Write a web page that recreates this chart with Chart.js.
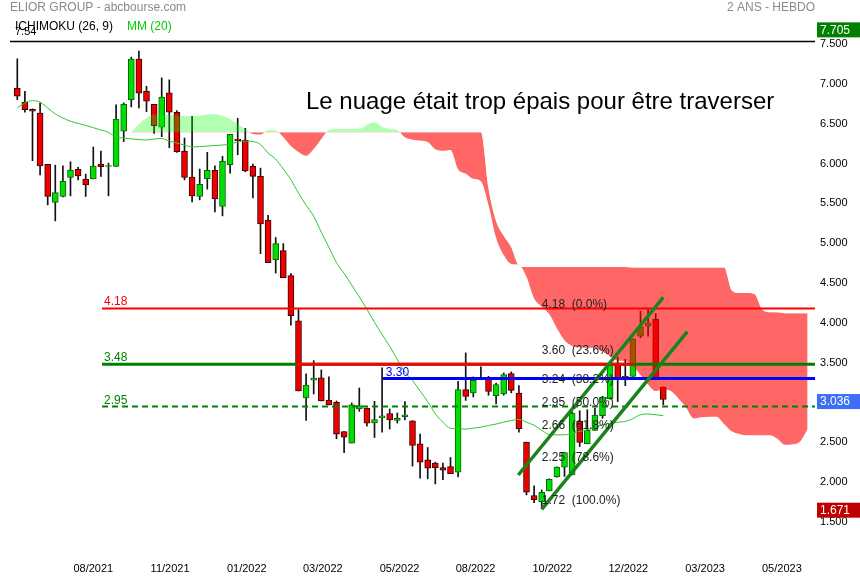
<!DOCTYPE html>
<html><head><meta charset="utf-8">
<script src="https://cdn.jsdelivr.net/npm/chart.js@4.4.1/dist/chart.umd.min.js"></script>
<style>html,body{margin:0;padding:0;background:#fff;}canvas{display:block;}</style>
</head><body>
<canvas id="c" width="860" height="580"></canvas>
<script>
// ---- weekly candles (index 0 = first week shown) ----
const opens = [6.947,6.771,6.683,6.636,5.990,5.511,5.587,5.826,5.927,5.801,
 5.808,5.994,5.965,5.964,6.406,6.804,7.312,6.909,6.746,6.456,
 6.888,6.645,6.158,5.830,5.587,5.809,5.915,5.461,5.985,6.309,
 6.296,5.969,5.839,5.289,4.794,4.907,4.592,4.025,3.055,3.280,
 3.308,3.030,3.001,2.635,2.489,2.917,2.929,2.742,2.805,2.858,
 2.775,2.820,2.769,2.480,2.278,2.237,2.181,2.194,2.123,3.160,
 3.118,3.310,3.307,3.085,3.106,3.362,3.118,2.500,1.829,1.754,
 1.888,2.068,2.187,2.090,2.764,2.480,2.648,2.833,3.047,3.475,
 3.330,3.327,3.831,3.957,4.042,3.194];
const highs = [7.316,6.909,6.687,6.762,5.990,5.981,5.973,6.023,5.952,5.868,
 6.208,6.158,6.006,6.737,6.762,7.338,7.413,6.972,6.746,7.077,
 7.052,6.666,6.321,6.594,5.931,6.141,5.973,6.091,6.368,6.569,
 6.443,5.994,5.943,5.351,5.071,4.995,4.617,4.167,3.358,3.525,
 3.408,3.320,3.018,2.635,2.993,3.181,2.929,3.013,3.433,2.917,
 2.867,3.009,2.769,2.602,2.433,2.250,2.237,2.308,3.265,3.622,
 3.320,3.446,3.328,3.244,3.370,3.383,3.210,2.500,1.951,1.900,
 2.040,2.190,2.370,2.880,2.896,2.908,2.930,3.076,3.480,3.570,
 3.540,3.798,4.146,4.180,4.117,3.194];
const lows = [6.804,6.645,6.036,5.859,5.481,5.280,5.580,5.595,5.796,5.587,
 5.808,5.839,5.595,5.964,6.275,6.712,6.699,6.653,6.380,6.338,
 6.199,6.140,5.796,5.519,5.544,5.679,5.393,5.343,5.880,6.111,
 5.897,5.570,4.869,4.756,4.625,4.567,3.970,3.144,2.774,3.106,
 3.018,2.967,2.543,2.370,2.489,2.887,2.700,2.559,2.627,2.665,
 2.741,2.780,2.200,2.048,2.040,1.976,2.030,2.106,2.064,3.025,
 3.068,3.286,3.090,2.980,3.090,3.120,2.627,1.838,1.740,1.671,
 1.888,2.060,2.070,2.090,2.446,2.480,2.648,2.800,3.040,3.010,
 3.210,3.327,3.811,3.831,3.299,2.971];
const closes = [6.846,6.677,6.657,5.972,5.587,5.637,5.776,5.918,5.846,5.733,
 5.969,5.960,5.975,6.560,6.746,7.312,6.884,6.783,6.476,6.834,
 6.645,6.149,5.826,5.595,5.738,5.915,5.557,6.028,6.368,6.287,
 5.909,5.839,5.242,4.756,4.995,4.567,4.088,3.144,3.219,3.305,
 3.018,2.967,2.602,2.564,2.968,2.959,2.740,2.784,2.830,2.780,
 2.800,2.845,2.459,2.250,2.175,2.181,2.149,2.106,3.160,3.076,
 3.277,3.300,3.139,3.223,3.349,3.152,2.669,1.872,1.779,1.871,
 2.035,2.187,2.370,2.867,2.497,2.648,2.841,3.068,3.475,3.295,
 3.320,3.798,3.950,4.000,3.299,3.036];

// ---- MM(20) ----
const mm20 = [6.699,6.762,6.791,6.771,6.699,6.623,6.573,6.532,6.505,6.479,
 6.451,6.422,6.393,6.330,6.321,6.311,6.302,6.296,6.309,6.315,
 6.283,6.258,6.233,6.208,6.214,6.220,6.227,6.233,6.246,6.271,
 6.283,6.277,6.239,6.132,6.057,5.931,5.799,5.629,5.477,5.339,
 5.137,4.948,4.756,4.621,4.475,4.325,4.171,4.006,3.853,3.705,
 3.540,3.380,3.276,3.142,3.009,2.858,2.751,2.675,2.669,2.665,
 2.676,2.689,2.710,2.728,2.752,2.773,2.787,2.751,2.713,2.650,
 2.596,2.593,2.593,2.614,2.635,2.656,2.689,2.718,2.738,2.751,
 2.760,2.797,2.845,2.854,2.845,2.833];

// ---- Ichimoku cloud spans (first value at week index cloudStart) ----
const cloudStart = 15;
const spanA = [6.393,6.497,6.573,6.617,6.617,6.611,6.605,6.598,6.594,6.605,
 6.617,6.623,6.598,6.561,6.497,6.435,6.372,6.365,6.422,6.416,
 6.334,6.220,6.145,6.098,6.183,6.309,6.422,6.435,6.435,6.435,
 6.435,6.485,6.519,6.460,6.435,6.422,6.330,6.300,6.290,6.270,
 6.180,6.160,6.170,5.930,5.874,5.808,5.779,5.481,5.068,4.851,
 4.739,4.726,4.578,4.308,4.203,4.109,3.930,3.780,3.710,3.692,
 3.686,3.686,3.640,3.580,3.525,3.521,3.457,3.345,3.226,3.142,
 3.161,3.142,3.048,2.935,2.799,2.813,2.821,2.821,2.730,2.637,
 2.603,2.587,2.587,2.587,2.587,2.544,2.468,2.474,2.510,2.665];
const spanB = [6.393,6.393,6.393,6.393,6.393,6.393,6.393,6.393,6.393,6.393,
 6.393,6.393,6.393,6.393,6.393,6.393,6.393,6.393,6.393,6.393,
 6.393,6.393,6.393,6.393,6.393,6.393,6.393,6.393,6.393,6.393,
 6.393,6.393,6.393,6.393,6.393,6.393,6.393,6.393,6.393,6.393,
 6.393,6.393,6.393,6.393,6.393,6.393,6.393,5.690,5.279,5.094,
 4.950,4.720,4.700,4.700,4.700,4.700,4.700,4.700,4.700,4.700,
 4.700,4.700,4.700,4.700,4.700,4.700,4.695,4.695,4.695,4.695,
 4.695,4.695,4.695,4.695,4.695,4.695,4.695,4.695,4.695,4.409,
 4.374,4.374,4.362,4.169,4.133,4.133,4.120,4.120,4.120,4.120];

// ---- drawn levels ----
const levelValues = [4.18, 3.48, 2.95];
const levelFrom = 11.15;
const blueLevel = 3.30, blueFrom = 48.1;
const redSegFrom = 36.76, redSegTo = 81.0;
const fibValues = [4.18, 3.60, 3.24, 2.95, 2.66, 2.25, 1.72];
const fibPct = ['0.0%', '23.6%', '38.2%', '50.0%', '61.8%', '78.6%', '100.0%'];
const fibX = 69.0;
const trendUpper = [[65.92, 2.088], [85.0, 4.320]];
const trendLower = [[69.0, 1.657], [88.16, 3.888]];
const boxValues = [7.705, 3.036, 1.671];
const topPriceText = '7.54';

// ---- axes ----
const xTickPos = [10.0, 20.1, 30.2, 40.2, 50.3, 60.3, 70.4, 80.4, 90.5, 100.6];
const xTickLabels = ['08/2021','11/2021','01/2022','03/2022','05/2022','08/2022','10/2022','12/2022','03/2023','05/2023'];
const yTickValues = [1.5, 2.0, 2.5, 3.0, 3.5, 4.0, 4.5, 5.0, 5.5, 6.0, 6.5, 7.0, 7.5];
const xMin = -0.96, xMax = 104.96, yMin = 1.083, yMax = 7.54;

const FONT = '"Liberation Sans", Arial, sans-serif';
const idx = opens.map((_, i) => i);
const isUp = i => closes[i] >= opens[i];

const pts = (arr, start) => arr.map((v, k) => ({x: start + k, y: v}));
const seg = (a, b, v) => [{x: a, y: v}, {x: b, y: v}];

const overlay = {
  id: 'overlay',
  afterDatasetsDraw(chart) {
    const {ctx, scales: {x, y}} = chart;
    ctx.save();
    ctx.font = '12px ' + FONT;
    ctx.textBaseline = 'middle';
    ctx.textAlign = 'left';
    const lx = x.getPixelForValue(levelFrom) + 2;
    ctx.fillStyle = '#ff0000';
    ctx.fillText(levelValues[0].toFixed(2), lx, y.getPixelForValue(levelValues[0]) - 6.5);
    ctx.fillStyle = '#008000';
    ctx.fillText(levelValues[1].toFixed(2), lx, y.getPixelForValue(levelValues[1]) - 6.5);
    ctx.fillText(levelValues[2].toFixed(2), lx, y.getPixelForValue(levelValues[2]) - 6);
    ctx.fillStyle = '#0000ff';
    ctx.fillText(blueLevel.toFixed(2), x.getPixelForValue(blueFrom) + 3, y.getPixelForValue(blueLevel) - 6);
    ctx.fillStyle = '#222';
    fibValues.forEach((v, k) => {
      ctx.fillText(v.toFixed(2) + '  (' + fibPct[k] + ')', x.getPixelForValue(fibX), y.getPixelForValue(v) - 4);
    });
    ctx.font = '24px ' + FONT;
    ctx.fillStyle = '#000';
    ctx.textBaseline = 'alphabetic';
    ctx.fillText('Le nuage était trop épais pour être traverser', 306, 109);
    ctx.restore();
  },
  afterDraw(chart) {
    const {ctx, chartArea, scales: {y}} = chart;
    ctx.save();
    ctx.strokeStyle = '#000';
    ctx.lineWidth = 1.5;
    ctx.beginPath();
    ctx.moveTo(10, chartArea.top + 0.5);
    ctx.lineTo(chartArea.right, chartArea.top + 0.5);
    ctx.stroke();
    ctx.textBaseline = 'middle';
    ctx.font = '12px ' + FONT;
    ctx.fillStyle = '#8a8a8a';
    ctx.textAlign = 'left';
    ctx.fillText('ELIOR GROUP - abcbourse.com', 10, 8);
    ctx.textAlign = 'right';
    ctx.fillText('2 ANS - HEBDO', 815, 8);
    ctx.textAlign = 'left';
    ctx.fillStyle = '#000';
    ctx.fillText('ICHIMOKU (26, 9)', 15, 27);
    ctx.fillStyle = '#00cc00';
    ctx.fillText('MM (20)', 127, 27);
    ctx.fillStyle = '#000';
    ctx.font = '11px ' + FONT;
    ctx.fillText(topPriceText, 15, 32);
    const boxColors = ['#008000', '#3d6ef5', '#c00000'];
    ctx.font = '12px ' + FONT;
    boxValues.forEach((v, k) => {
      const cy = y.getPixelForValue(v) + 2;
      ctx.fillStyle = boxColors[k];
      ctx.fillRect(817, cy - 7.5, 43, 15);
      ctx.fillStyle = '#fff';
      ctx.fillText(v.toFixed(3), 820, cy + 0.5);
    });
    ctx.restore();
  }
};

new Chart(document.getElementById('c'), {
  type: 'bar',
  data: {
    datasets: [
      {type: 'bar', data: idx.map(i => ({x: i, y: [lows[i], highs[i]]})), backgroundColor: '#111',
       barThickness: 1, grouped: false, order: 20},
      {type: 'bar', data: idx.map(i => ({x: i, y: [opens[i], closes[i]]})),
       backgroundColor: idx.map(i => isUp(i) ? '#00dd00' : '#ee0000'),
       borderColor: idx.map(i => isUp(i) ? '#0a640a' : '#3a0000'),
       borderWidth: 1, borderSkipped: false, barThickness: 6, grouped: false, order: 19},
      {type: 'line', data: pts(spanA, cloudStart), borderColor: 'rgba(0,0,0,0)', borderWidth: 0, pointRadius: 0,
       cubicInterpolationMode: 'monotone',
       fill: {target: '+1', above: 'rgba(0,255,0,0.3)', below: 'rgba(255,0,0,0.6)'}, order: 10},
      {type: 'line', data: pts(spanB, cloudStart), borderColor: 'rgba(0,0,0,0)', borderWidth: 0, pointRadius: 0,
       cubicInterpolationMode: 'monotone', fill: false, order: 11},
      {type: 'line', data: pts(mm20, 0), borderColor: '#2ec82e', borderWidth: 1, pointRadius: 0,
       cubicInterpolationMode: 'monotone', fill: false, order: 8},
      {type: 'line', data: seg(levelFrom, xMax, levelValues[0]), borderColor: '#ff0000', borderWidth: 2, pointRadius: 0, order: 6},
      {type: 'line', data: seg(levelFrom, xMax, levelValues[1]), borderColor: '#008000', borderWidth: 3, pointRadius: 0, order: 6},
      {type: 'line', data: seg(redSegFrom, redSegTo, levelValues[1]), borderColor: '#ff0000', borderWidth: 3, pointRadius: 0, order: 5},
      {type: 'line', data: seg(levelFrom, xMax, levelValues[2]), borderColor: '#008000', borderWidth: 2, borderDash: [6, 4], pointRadius: 0, order: 6},
      {type: 'line', data: seg(blueFrom, xMax, blueLevel), borderColor: '#0000ff', borderWidth: 3, pointRadius: 0, order: 5},
      {type: 'line', data: trendUpper.map(p => ({x: p[0], y: p[1]})), borderColor: '#1a841a', borderWidth: 3.5, pointRadius: 0, order: 1},
      {type: 'line', data: trendLower.map(p => ({x: p[0], y: p[1]})), borderColor: '#1a841a', borderWidth: 3.5, pointRadius: 0, order: 1}
    ]
  },
  options: {
    responsive: false,
    animation: false,
    devicePixelRatio: 1,
    layout: {padding: {left: 10, top: 41, right: 0, bottom: 0}},
    plugins: {legend: {display: false}, tooltip: {enabled: false}},
    scales: {
      x: {
        type: 'linear', min: xMin, max: xMax, offset: false,
        grid: {display: false, drawTicks: false}, border: {display: false},
        afterBuildTicks: s => { s.ticks = xTickPos.map(v => ({value: v})); },
        afterFit: s => { s.height = 25; },
        ticks: {autoSkip: false, maxRotation: 0, padding: 7, color: '#000',
                font: {family: FONT, size: 11},
                callback: (v, i) => xTickLabels[i]}
      },
      y: {
        type: 'linear', position: 'right', min: yMin, max: yMax,
        grid: {display: false, drawTicks: false}, border: {display: false},
        afterBuildTicks: s => { s.ticks = yTickValues.map(v => ({value: v})); },
        afterFit: s => { s.width = 45; },
        ticks: {padding: 5, color: '#000', font: {family: FONT, size: 11},
                callback: v => Number(v).toFixed(3)}
      }
    }
  },
  plugins: [overlay]
});
</script>
</body></html>
